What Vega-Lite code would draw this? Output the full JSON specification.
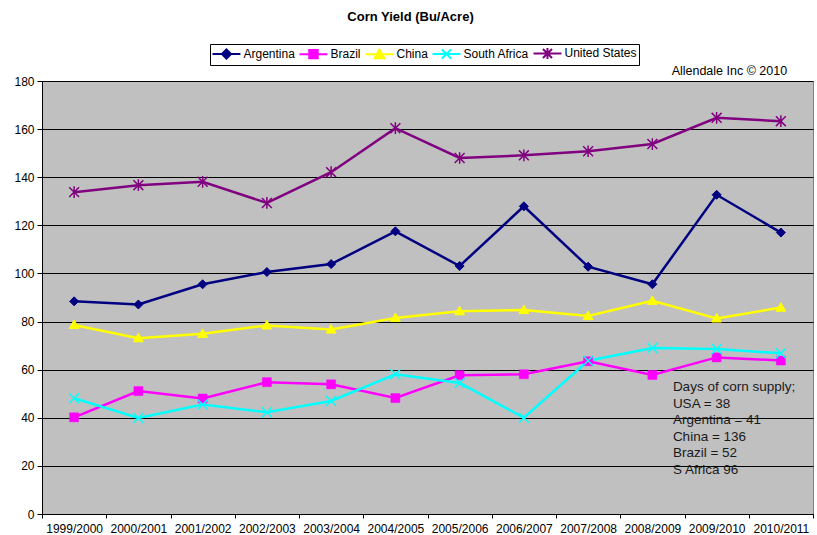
{
  "$schema": "https://vega.github.io/schema/vega-lite/v6.json",
  "width": 771,
  "height": 433,
  "autosize": {"type": "none"},
  "padding": {"left": 42, "top": 81, "right": 4, "bottom": 21},
  "background": "white",
  "title": {"text": "Corn Yield (Bu/Acre)", "font": "Liberation Sans", "fontSize": 13, "fontWeight": "bold", "color": "black", "anchor": "middle", "frame": "group", "offset": 20, "dx": -17},
  "config": {
    "view": {"fill": "#C0C0C0", "stroke": "#808080", "strokeWidth": 1},
    "font": "Liberation Sans",
    "axis": {"labelFont": "Liberation Sans", "labelFontSize": 12, "labelColor": "black", "domainColor": "black", "tickColor": "black", "title": null}
  },
  "datasets": {
    "yield": [
      {"year": "1999/2000", "series": "Argentina", "value": 88.4},
      {"year": "2000/2001", "series": "Argentina", "value": 87.1},
      {"year": "2001/2002", "series": "Argentina", "value": 95.5},
      {"year": "2002/2003", "series": "Argentina", "value": 100.6},
      {"year": "2003/2004", "series": "Argentina", "value": 103.9},
      {"year": "2004/2005", "series": "Argentina", "value": 117.5},
      {"year": "2005/2006", "series": "Argentina", "value": 103.1},
      {"year": "2006/2007", "series": "Argentina", "value": 127.9},
      {"year": "2007/2008", "series": "Argentina", "value": 102.8},
      {"year": "2008/2009", "series": "Argentina", "value": 95.5},
      {"year": "2009/2010", "series": "Argentina", "value": 132.7},
      {"year": "2010/2011", "series": "Argentina", "value": 117.0},
      {"year": "1999/2000", "series": "Brazil", "value": 40.2},
      {"year": "2000/2001", "series": "Brazil", "value": 51.1},
      {"year": "2001/2002", "series": "Brazil", "value": 48.0},
      {"year": "2002/2003", "series": "Brazil", "value": 54.8},
      {"year": "2003/2004", "series": "Brazil", "value": 53.9},
      {"year": "2004/2005", "series": "Brazil", "value": 48.2},
      {"year": "2005/2006", "series": "Brazil", "value": 57.7},
      {"year": "2006/2007", "series": "Brazil", "value": 58.1},
      {"year": "2007/2008", "series": "Brazil", "value": 63.5},
      {"year": "2008/2009", "series": "Brazil", "value": 57.8},
      {"year": "2009/2010", "series": "Brazil", "value": 65.1},
      {"year": "2010/2011", "series": "Brazil", "value": 63.8},
      {"year": "1999/2000", "series": "China", "value": 78.6},
      {"year": "2000/2001", "series": "China", "value": 73.1},
      {"year": "2001/2002", "series": "China", "value": 74.9},
      {"year": "2002/2003", "series": "China", "value": 78.4},
      {"year": "2003/2004", "series": "China", "value": 76.7},
      {"year": "2004/2005", "series": "China", "value": 81.5},
      {"year": "2005/2006", "series": "China", "value": 84.3},
      {"year": "2006/2007", "series": "China", "value": 84.8},
      {"year": "2007/2008", "series": "China", "value": 82.3},
      {"year": "2008/2009", "series": "China", "value": 88.6},
      {"year": "2009/2010", "series": "China", "value": 81.3},
      {"year": "2010/2011", "series": "China", "value": 85.8},
      {"year": "1999/2000", "series": "South Africa", "value": 48.1},
      {"year": "2000/2001", "series": "South Africa", "value": 39.9},
      {"year": "2001/2002", "series": "South Africa", "value": 45.5},
      {"year": "2002/2003", "series": "South Africa", "value": 42.3},
      {"year": "2003/2004", "series": "South Africa", "value": 47.0},
      {"year": "2004/2005", "series": "South Africa", "value": 58.1},
      {"year": "2005/2006", "series": "South Africa", "value": 54.5},
      {"year": "2006/2007", "series": "South Africa", "value": 40.0},
      {"year": "2007/2008", "series": "South Africa", "value": 63.7},
      {"year": "2008/2009", "series": "South Africa", "value": 69.0},
      {"year": "2009/2010", "series": "South Africa", "value": 68.6},
      {"year": "2010/2011", "series": "South Africa", "value": 66.8},
      {"year": "1999/2000", "series": "United States", "value": 133.8},
      {"year": "2000/2001", "series": "United States", "value": 136.7},
      {"year": "2001/2002", "series": "United States", "value": 138.1},
      {"year": "2002/2003", "series": "United States", "value": 129.3},
      {"year": "2003/2004", "series": "United States", "value": 142.1},
      {"year": "2004/2005", "series": "United States", "value": 160.4},
      {"year": "2005/2006", "series": "United States", "value": 148.0},
      {"year": "2006/2007", "series": "United States", "value": 149.1},
      {"year": "2007/2008", "series": "United States", "value": 150.8},
      {"year": "2008/2009", "series": "United States", "value": 153.8},
      {"year": "2009/2010", "series": "United States", "value": 164.7},
      {"year": "2010/2011", "series": "United States", "value": 163.3}
    ],
    "notes": [
      {"year": "2009/2010", "value": 184, "label": "Allendale Inc © 2010", "kind": "credit"},
      {"year": "2010/2011", "value": 55.7, "label": "Days of corn supply;\nUSA = 38\nArgentina = 41\nChina = 136\nBrazil = 52\nS Africa 96", "kind": "supply"}
    ]
  },
  "encoding": {
    "x": {
      "field": "year", "type": "nominal", "sort": null,
      "scale": {"type": "band", "paddingInner": 0, "paddingOuter": 0},
      "axis": {"labelAngle": 0, "tickBand": "extent", "tickSize": 4, "labelPadding": 5, "grid": false, "domainWidth": 1}
    },
    "y": {
      "field": "value", "type": "quantitative",
      "scale": {"domain": [0, 180], "nice": false, "zero": true},
      "axis": {"values": [0, 20, 40, 60, 80, 100, 120, 140, 160, 180], "grid": true, "gridColor": "black", "gridOpacity": 1, "gridWidth": 1, "tickSize": 5, "labelPadding": 3}
    }
  },
  "layer": [
    {
      "data": {"name": "yield"},
      "mark": {"type": "line", "strokeWidth": 2.5},
      "encoding": {
        "color": {
          "field": "series", "type": "nominal",
          "scale": {"domain": ["Argentina", "Brazil", "China", "South Africa", "United States"], "range": ["#000080", "#FF00FF", "#FFFF00", "#00FFFF", "#800080"]},
          "legend": {
            "title": null, "orient": "none", "legendX": 168, "legendY": -37, "direction": "horizontal", "columns": 5,
            "strokeColor": "black", "padding": 1.5, "columnPadding": 0, "labelOffset": 17,
            "labelFont": "Liberation Sans", "labelFontSize": 12, "labelColor": "black",
            "symbolSize": 169, "symbolStrokeWidth": 2, "symbolType": "stroke",
            "encode": {
              "symbols": {
                "update": {
                  "shape": {"signal": "datum.value === 'Argentina' ? 'M-1,0L3.3,0M1.15,-0.7L1.85,0L1.15,0.7L0.45,0Z' : datum.value === 'Brazil' ? 'M-1,0L3.3,0M0.5,-0.65L1.8,-0.65L1.8,0.65L0.5,0.65Z' : datum.value === 'China' ? 'M-1,0L3.3,0M1.15,-0.75L1.9,0.6L0.4,0.6Z' : datum.value === 'South Africa' ? 'M-1,0L3.3,0M0.45,-0.7L1.85,0.7M0.45,0.7L1.85,-0.7' : 'M-1,0L3.3,0M0.45,-0.7L1.85,0.7M0.45,0.7L1.85,-0.7M1.15,-0.85L1.15,0.85'"},
                  "size": {"value": 169},
                  "fill": {"scale": "color", "field": "value"},
                  "fillOpacity": {"value": 1},
                  "stroke": {"scale": "color", "field": "value"},
                  "strokeWidth": {"value": 2}
                }
              }
            }
          }
        }
      }
    },
    {
      "data": {"name": "yield"},
      "transform": [{"filter": "datum.series === 'Argentina'"}],
      "mark": {"type": "point", "filled": true, "opacity": 1, "size": 81, "shape": "M0,-1L1,0L0,1L-1,0Z", "fill": "#000080", "stroke": "#000080", "strokeWidth": 1}
    },
    {
      "data": {"name": "yield"},
      "transform": [{"filter": "datum.series === 'Brazil'"}],
      "mark": {"type": "point", "filled": true, "opacity": 1, "size": 81, "shape": "M-1,-1L1,-1L1,1L-1,1Z", "fill": "#FF00FF", "stroke": "#FF00FF", "strokeWidth": 0.5}
    },
    {
      "data": {"name": "yield"},
      "transform": [{"filter": "datum.series === 'China'"}],
      "mark": {"type": "point", "filled": true, "opacity": 1, "size": 81, "shape": "M0,-1.1L1.1,0.8L-1.1,0.8Z", "fill": "#FFFF00", "stroke": "#FFFF00", "strokeWidth": 1}
    },
    {
      "data": {"name": "yield"},
      "transform": [{"filter": "datum.series === 'South Africa'"}],
      "mark": {"type": "point", "filled": false, "opacity": 1, "size": 81, "shape": "M-1.1,-1.1L1.1,1.1M-1.1,1.1L1.1,-1.1", "stroke": "#00FFFF", "strokeWidth": 1.5}
    },
    {
      "data": {"name": "yield"},
      "transform": [{"filter": "datum.series === 'United States'"}],
      "mark": {"type": "point", "filled": false, "opacity": 1, "size": 81, "shape": "M-1.1,-1.1L1.1,1.1M-1.1,1.1L1.1,-1.1M0,-1.3L0,1.3", "stroke": "#800080", "strokeWidth": 1.5}
    },
    {
      "data": {"name": "notes"},
      "transform": [{"filter": "datum.kind === 'credit'"}],
      "mark": {"type": "text", "align": "left", "baseline": "middle", "dx": -45, "font": "Liberation Sans", "fontSize": 12.5, "color": "black"},
      "encoding": {"text": {"field": "label"}}
    },
    {
      "data": {"name": "notes"},
      "transform": [{"filter": "datum.kind === 'supply'"}],
      "mark": {"type": "text", "align": "left", "baseline": "top", "dx": -108, "lineBreak": "\n", "lineHeight": 16.5, "font": "Liberation Sans", "fontSize": 13.5, "color": "#1a1a1a"},
      "encoding": {"text": {"field": "label"}}
    }
  ]
}
